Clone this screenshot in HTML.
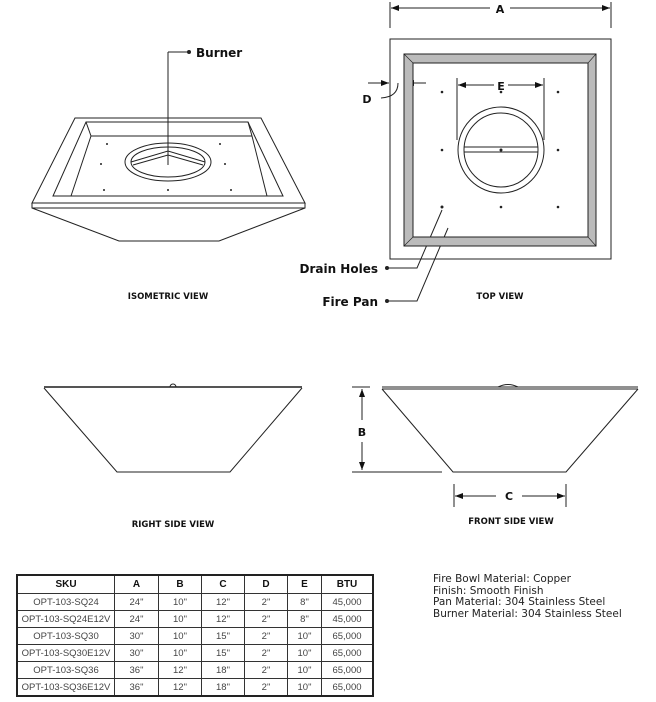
<!DOCTYPE html>
<html><head><meta charset="utf-8"><style>
body{margin:0;background:#fff;width:656px;height:702px;overflow:hidden;font-family:"DejaVu Sans","Liberation Sans",sans-serif}
svg{position:absolute;left:0;top:0}
table{position:absolute;left:16px;top:574px;border-collapse:collapse;border:2px solid #222;font-family:"Liberation Sans",sans-serif}
td,th{border:1px solid #333;height:16px;padding:0;text-align:center;font-size:9.5px;color:#444}
th{font-size:10px;color:#111;font-weight:bold;height:17px}
.spec{position:absolute;left:433px;top:574px;font-size:10.5px;line-height:11.7px;color:#222;font-family:"DejaVu Sans",sans-serif}
</style></head><body>
<svg width="656" height="702" viewBox="0 0 656 702" font-family="DejaVu Sans, Liberation Sans, sans-serif">
<defs><marker id="ar" markerWidth="8" markerHeight="6" refX="8" refY="3" orient="auto"><path d="M0,0L8,3L0,6z" fill="#111"/></marker></defs>
<g fill="none" stroke="#222" stroke-width="1">
<polygon points="75,118 261,118 305,203 32,203"/>
<polygon points="86,122 248,122 283,196 53,196"/>
<line x1="91" y1="136" x2="252" y2="136"/>
<line x1="86" y1="122" x2="91" y2="136"/><line x1="248" y1="122" x2="252" y2="136"/>
<line x1="91" y1="136" x2="71" y2="196"/><line x1="252" y1="136" x2="267" y2="196"/>
<path d="M32,203 L32,208 L119,241 L219,241 L305,208 L305,203"/>
<line x1="32" y1="208" x2="305" y2="208"/>
<ellipse cx="168" cy="162" rx="43" ry="19"/>
<ellipse cx="168" cy="162" rx="37" ry="15"/>
<path d="M131,162 L168,151 L205,162"/><path d="M133,165 L168,155 L203,165"/>
<line x1="168" y1="52" x2="168" y2="165"/>
<line x1="168" y1="52" x2="188" y2="52"/>
<rect x="390" y="39" width="221" height="220"/>
<line x1="390" y1="2" x2="390" y2="28"/><line x1="611" y1="2" x2="611" y2="28"/>
<line x1="391" y1="8" x2="490" y2="8" marker-end="url(#ar)" transform="rotate(180 440.5 8)"/>
<line x1="510" y1="8" x2="610" y2="8" marker-end="url(#ar)"/>
<line x1="457" y1="78" x2="457" y2="140"/><line x1="544" y1="78" x2="544" y2="140"/>
<line x1="458" y1="85" x2="494" y2="85" marker-end="url(#ar)" transform="rotate(180 476 85)"/>
<line x1="508" y1="85" x2="543" y2="85" marker-end="url(#ar)"/>
<line x1="368" y1="83" x2="389" y2="83" marker-end="url(#ar)"/>
<line x1="426" y1="83" x2="406" y2="83" marker-end="url(#ar)"/>
<path d="M381,98 Q398,97 398,83"/>
<circle cx="501" cy="150" r="43"/><circle cx="501" cy="150" r="37"/>
<line x1="464" y1="147" x2="538" y2="147"/><line x1="464" y1="152" x2="538" y2="152"/>
<path d="M387,268 L417,268 L442,210"/>
<path d="M387,301 L417,301 L448,228"/>
<line x1="44" y1="387" x2="302" y2="387" stroke-width="2" stroke="#555"/>
<path d="M44,388 L117,472 L230,472 L302,388"/>
<path d="M170,387 a3,3 0 0 1 6,0"/>
<line x1="382" y1="387" x2="638" y2="387"/><line x1="382" y1="389" x2="638" y2="389"/>
<path d="M382,389 L453,472 L566,472 L638,389"/>
<path d="M498,387 Q508,382 518,387"/>
<line x1="352" y1="387" x2="370" y2="387"/><line x1="352" y1="472" x2="442" y2="472"/>
<line x1="362" y1="420" x2="362" y2="389" marker-end="url(#ar)"/>
<line x1="362" y1="442" x2="362" y2="470" marker-end="url(#ar)"/>
<line x1="454" y1="484" x2="454" y2="507"/><line x1="566" y1="484" x2="566" y2="507"/>
<line x1="496" y1="496" x2="455" y2="496" marker-end="url(#ar)"/>
<line x1="522" y1="496" x2="565" y2="496" marker-end="url(#ar)"/>
</g>
<path d="M404,54 L596,54 L596,246 L404,246 Z M413,63 L413,237 L588,237 L588,63 Z" fill="#bbb" fill-rule="evenodd" stroke="#222"/>
<g stroke="#222" stroke-width="0.6"><line x1="404" y1="54" x2="413" y2="63"/><line x1="596" y1="54" x2="588" y2="63"/><line x1="404" y1="246" x2="413" y2="237"/><line x1="596" y1="246" x2="588" y2="237"/></g>
<g fill="#222">
<circle cx="189" cy="52" r="2"/><circle cx="387" cy="268" r="2"/><circle cx="387" cy="301" r="2"/>
<circle cx="442" cy="92" r="1.3"/><circle cx="558" cy="92" r="1.3"/><circle cx="501" cy="92" r="1.3"/>
<circle cx="442" cy="150" r="1.3"/><circle cx="558" cy="150" r="1.3"/><circle cx="501" cy="150" r="1.5"/>
<circle cx="442" cy="207" r="1.5"/><circle cx="501" cy="207" r="1.3"/><circle cx="558" cy="207" r="1.3"/>
<circle cx="107" cy="144" r="1"/><circle cx="220" cy="144" r="1"/><circle cx="101" cy="164" r="1"/><circle cx="225" cy="164" r="1"/>
<circle cx="104" cy="190" r="1"/><circle cx="168" cy="190" r="1"/><circle cx="231" cy="190" r="1"/>
</g>
<g font-weight="bold" fill="#111">
<text x="196" y="57" font-size="12">Burner</text>
<text x="500" y="13" font-size="11" text-anchor="middle">A</text>
<text x="501" y="90" font-size="11" text-anchor="middle">E</text>
<text x="367" y="103" font-size="11" text-anchor="middle">D</text>
<text x="378" y="273" font-size="12" text-anchor="end">Drain Holes</text>
<text x="378" y="306" font-size="12" text-anchor="end">Fire Pan</text>
<text x="362" y="436" font-size="11" text-anchor="middle">B</text>
<text x="509" y="500" font-size="11" text-anchor="middle">C</text>
<g font-size="8.5">
<text x="168" y="299" text-anchor="middle">ISOMETRIC VIEW</text>
<text x="500" y="299" text-anchor="middle">TOP VIEW</text>
<text x="173" y="527" text-anchor="middle">RIGHT SIDE VIEW</text>
<text x="511" y="524" text-anchor="middle">FRONT SIDE VIEW</text>
</g></g>
</svg>
<table>
<tr><th style="width:96px">SKU</th><th style="width:43px">A</th><th style="width:42px">B</th><th style="width:42px">C</th><th style="width:42px">D</th><th style="width:33px">E</th><th style="width:50px">BTU</th></tr>
<tr><td>OPT-103-SQ24</td><td>24"</td><td>10"</td><td>12"</td><td>2"</td><td>8"</td><td>45,000</td></tr>
<tr><td>OPT-103-SQ24E12V</td><td>24"</td><td>10"</td><td>12"</td><td>2"</td><td>8"</td><td>45,000</td></tr>
<tr><td>OPT-103-SQ30</td><td>30"</td><td>10"</td><td>15"</td><td>2"</td><td>10"</td><td>65,000</td></tr>
<tr><td>OPT-103-SQ30E12V</td><td>30"</td><td>10"</td><td>15"</td><td>2"</td><td>10"</td><td>65,000</td></tr>
<tr><td>OPT-103-SQ36</td><td>36"</td><td>12"</td><td>18"</td><td>2"</td><td>10"</td><td>65,000</td></tr>
<tr><td>OPT-103-SQ36E12V</td><td>36"</td><td>12"</td><td>18"</td><td>2"</td><td>10"</td><td>65,000</td></tr>
</table>
<div class="spec">Fire Bowl Material: Copper<br>Finish: Smooth Finish<br>Pan Material: 304 Stainless Steel<br>Burner Material: 304 Stainless Steel</div>
</body></html>
